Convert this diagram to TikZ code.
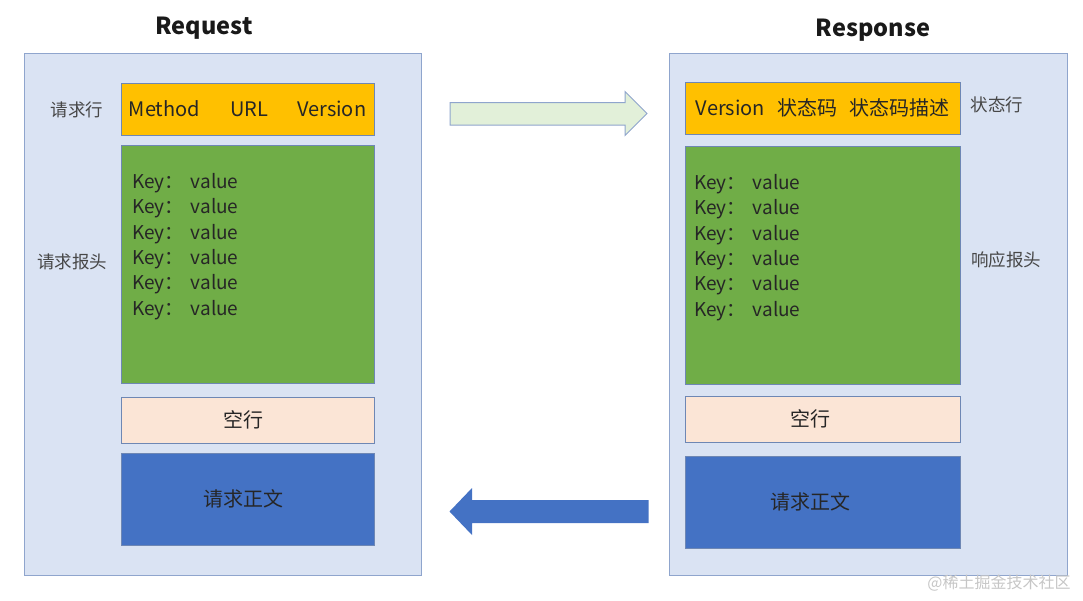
\documentclass[tikz,border=0pt]{standalone}
\usepackage{fontspec}
\setmainfont{Noto Sans CJK SC}
\usepackage{xcolor}
\usepackage{tikz}
\usetikzlibrary{positioning}
\definecolor{panelbg}{RGB}{218,227,243}
\definecolor{panelline}{RGB}{143,165,205}
\definecolor{fieldline}{RGB}{110,135,180}
\definecolor{startorange}{RGB}{255,192,0}
\definecolor{headgreen}{RGB}{112,173,71}
\definecolor{blankpink}{RGB}{251,229,214}
\definecolor{bodyblue}{RGB}{68,114,196}
\definecolor{sendgreen}{RGB}{226,240,217}
\definecolor{inktext}{RGB}{38,38,38}
\newcommand{\kv}{Key：\hspace{7pt}value}
\tikzset{
    panel/.style={rectangle, draw=panelline, fill=panelbg, minimum width=397pt, minimum height=522pt},
    field/.style={rectangle, draw=fieldline, text centered, text=inktext, inner sep=0pt, font=\fontsize{20}{24}\selectfont},
    startline/.style={field, fill=startorange, minimum height=52pt},
    headers/.style={field, fill=headgreen, minimum height=238pt},
    blankline/.style={field, fill=blankpink, minimum height=46pt},
    msgbody/.style={field, fill=bodyblue, minimum height=92pt},
    keys/.style={align=left, inner sep=0pt, text=inktext, font=\fontsize{19}{25.4}\selectfont},
    sidelabel/.style={inner sep=0pt, text=inktext!85, font=\fontsize{17.5}{20}\selectfont},
    title/.style={inner sep=0pt, text=black!90, font=\fontsize{23.5}{28}\selectfont\bfseries},
    sendarrow/.style={draw=panelline, fill=sendgreen, line width=1pt},
    backarrow/.style={draw=none, fill=bodyblue}
}
\begin{document}
\begin{tikzpicture}[x=1pt, y=-1pt]
    \useasboundingbox (0,0) rectangle (1083,600);
    % Request side
    \node[panel] (req) at (222.5,314) {};
    \node[title] (reqtitle) at (204,28) {Request};
    \node[startline, minimum width=253pt] (reqline) at (247.5,109) {Method\hspace{30pt}URL\hspace{29pt}Version};
    \node[headers, minimum width=253pt, below=10pt of reqline] (reqhdr) {};
    \node[blankline, minimum width=253pt, below=13pt of reqhdr] (reqblank) {\hspace*{-8pt}空行};
    \node[msgbody, minimum width=253pt, below=10pt of reqblank] (reqbody) {\hspace*{-8pt}请求正文};
    \node[keys, anchor=north west] (reqkeys) at (132,173) {\kv\\\kv\\\kv\\\kv\\\kv\\\kv};
    \node[sidelabel] (reqlinelbl) at (77,110) {请求行};
    \node[sidelabel] (reqhdrlbl) at (72,262) {请求报头};
    % Response side
    \node[panel, minimum width=398pt] (resp) at (868,314) {};
    \node[title] (resptitle) at (873,30) {Response};
    \node[startline, minimum width=275pt] (respline) at (822.5,108) {Version\hspace{12pt}状态码\hspace{12pt}状态码描述};
    \node[headers, minimum width=275pt, below=12pt of respline] (resphdr) {};
    \node[blankline, minimum width=275pt, below=11pt of resphdr] (respblank) {\hspace*{-24pt}空行};
    \node[msgbody, minimum width=275pt, below=14pt of respblank] (respbody) {\hspace*{-24pt}请求正文};
    \node[keys, anchor=north west] (respkeys) at (694,174) {\kv\\\kv\\\kv\\\kv\\\kv\\\kv};
    \node[sidelabel] (resplinelbl) at (997,105) {状态行};
    \node[sidelabel] (resphdrlbl) at (1006,260) {响应报头};
    % Arrows between the two
    \draw[sendarrow] (450,102.5) -- (625,102.5) -- (625,91.5) -- (647,113.5)
        -- (625,135.5) -- (625,125) -- (450,125) -- cycle;
    \fill[backarrow] (648.5,500) -- (472,500) -- (472,488) -- (449.5,511.5)
        -- (472,535) -- (472,523) -- (648.5,523) -- cycle;
    % Watermark
    \node[inner sep=0pt, text=gray!45, font=\fontsize{16}{18}\selectfont] (mark) at (999,583) {@稀土掘金技术社区};
\end{tikzpicture}
\end{document}
